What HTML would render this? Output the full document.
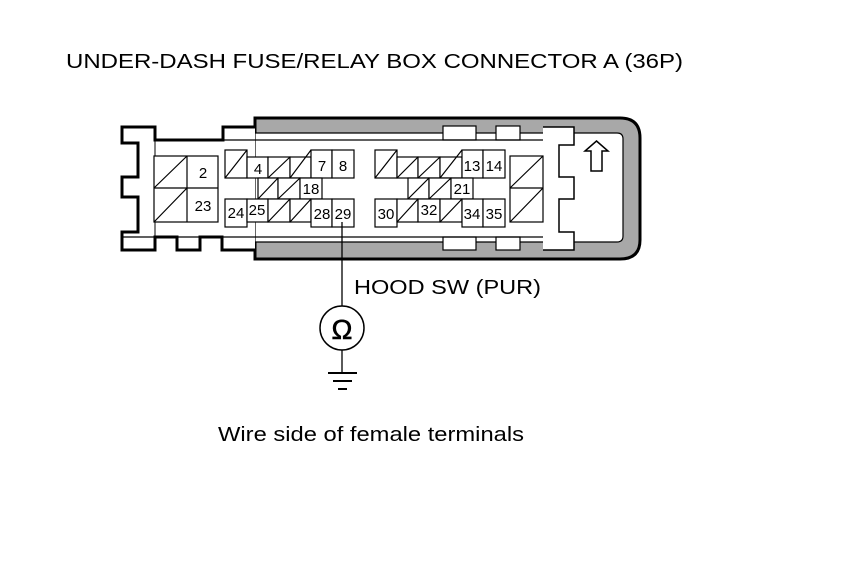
<!DOCTYPE html>
<html><head><meta charset="utf-8"><style>html,body{margin:0;padding:0;background:#fff}svg{display:block}</style></head>
<body>
<svg width="860" height="576" viewBox="0 0 860 576" xmlns="http://www.w3.org/2000/svg" font-family="Liberation Sans, sans-serif">
<rect width="860" height="576" fill="#fff"/>
<text x="66" y="68" font-size="20" textLength="617" lengthAdjust="spacingAndGlyphs">UNDER-DASH FUSE/RELAY BOX CONNECTOR A (36P)</text>
<path d="M255,118 H620 Q640,118 640,138 V240 Q640,259 620,259 H255 Z" fill="#a8a8a8" stroke="#000" stroke-width="3"/>
<path d="M255,133 H617 Q623,133 623,139 V236 Q623,242 617,242 H255 Z" fill="#fff" stroke="#000" stroke-width="1.2"/>
<rect x="443" y="126" width="33" height="14" fill="#fff" stroke="#000" stroke-width="1.2"/>
<rect x="496" y="126" width="24" height="14" fill="#fff" stroke="#000" stroke-width="1.2"/>
<rect x="443" y="237" width="33" height="13" fill="#fff" stroke="#000" stroke-width="1.2"/>
<rect x="496" y="237" width="24" height="13" fill="#fff" stroke="#000" stroke-width="1.2"/>
<path d="M255,127 H223 V140 H155 V127 H122 V143 H138 V177 H122 V197 H138 V232 H122 V250 H155 V237 H177 V250 H200 V237 H222 V250 H255" fill="#fff" stroke="#000" stroke-width="3"/>
<line x1="155" y1="140" x2="155" y2="237" stroke="#000" stroke-width="1"/>
<line x1="155" y1="140" x2="543" y2="140" stroke="#000" stroke-width="1.2"/>
<line x1="122" y1="237" x2="543" y2="237" stroke="#000" stroke-width="1.2"/>
<path d="M543,127 H574 V145 H559 V177 H574 V199 H559 V232 H574 V250 H543" fill="#fff" stroke="#000" stroke-width="1.5"/>
<rect x="543" y="141" width="15" height="95" fill="#fff"/>
<path d="M596.5,141 L608,151 H602 V171 H591 V151 H585 Z" fill="#fff" stroke="#000" stroke-width="1.5"/>
<g stroke="#000" stroke-width="1.2" fill="#fff">
<rect x="154" y="156" width="64" height="66"/>
<line x1="187" y1="156" x2="187" y2="222"/><line x1="154" y1="188" x2="218" y2="188"/>
<line x1="154" y1="188" x2="187" y2="156"/><line x1="154" y1="222" x2="187" y2="188"/>
<rect x="225" y="150" width="22" height="28"/><line x1="225" y1="178" x2="247" y2="150"/>
<rect x="247" y="157" width="21" height="21"/>
<rect x="268" y="157" width="22" height="21"/><line x1="268" y1="178" x2="290" y2="157"/>
<rect x="290" y="157" width="21" height="21"/><line x1="290" y1="178" x2="311" y2="150"/>
<rect x="311" y="150" width="21" height="28"/>
<rect x="332" y="150" width="22" height="28"/>
<rect x="258" y="178" width="20" height="21"/><line x1="258" y1="199" x2="278" y2="178"/>
<rect x="278" y="178" width="22" height="21"/><line x1="278" y1="199" x2="300" y2="178"/>
<rect x="300" y="178" width="22" height="21"/>
<rect x="225" y="199" width="22" height="28"/>
<rect x="247" y="199" width="21" height="23"/>
<rect x="268" y="199" width="22" height="23"/><line x1="268" y1="222" x2="290" y2="199"/>
<rect x="290" y="199" width="21" height="23"/><line x1="290" y1="222" x2="311" y2="199"/>
<rect x="311" y="199" width="21" height="28"/>
<rect x="332" y="199" width="22" height="28"/>
<rect x="375" y="150" width="22" height="28"/><line x1="375" y1="178" x2="397" y2="150"/>
<rect x="397" y="157" width="21" height="21"/><line x1="397" y1="178" x2="418" y2="157"/>
<rect x="418" y="157" width="22" height="21"/><line x1="418" y1="178" x2="440" y2="157"/>
<rect x="440" y="157" width="22" height="21"/><line x1="440" y1="178" x2="462" y2="150"/>
<rect x="462" y="150" width="21" height="28"/>
<rect x="483" y="150" width="22" height="28"/>
<rect x="408" y="178" width="21" height="21"/><line x1="408" y1="199" x2="429" y2="178"/>
<rect x="429" y="178" width="22" height="21"/><line x1="429" y1="199" x2="451" y2="178"/>
<rect x="451" y="178" width="22" height="21"/>
<rect x="375" y="199" width="22" height="28"/>
<rect x="397" y="199" width="21" height="23"/><line x1="397" y1="222" x2="418" y2="199"/>
<rect x="418" y="199" width="22" height="23"/>
<rect x="440" y="199" width="22" height="23"/><line x1="440" y1="222" x2="462" y2="199"/>
<rect x="462" y="199" width="21" height="28"/>
<rect x="483" y="199" width="22" height="28"/>
<rect x="510" y="156" width="33" height="66"/><line x1="510" y1="188" x2="543" y2="188"/>
<line x1="510" y1="188" x2="543" y2="156"/><line x1="510" y1="222" x2="543" y2="188"/>
</g>
<g font-size="15" text-anchor="middle">
<text x="203" y="178">2</text><text x="203" y="211">23</text>
<text x="258" y="174">4</text><text x="322" y="171">7</text><text x="343" y="171">8</text>
<text x="311" y="194">18</text>
<text x="236" y="218">24</text><text x="257" y="215">25</text><text x="322" y="219">28</text><text x="343" y="219">29</text>
<text x="472" y="171">13</text><text x="494" y="171">14</text>
<text x="462" y="194">21</text>
<text x="386" y="219">30</text><text x="429" y="215">32</text><text x="472" y="219">34</text><text x="494" y="219">35</text>
</g>
<line x1="342" y1="222" x2="342" y2="306" stroke="#000" stroke-width="1.3"/>
<circle cx="342" cy="328" r="22" fill="#fff" stroke="#000" stroke-width="1.5"/>
<text x="342" y="339" font-size="28" text-anchor="middle" stroke="#000" stroke-width="0.6">Ω</text>
<line x1="342" y1="350" x2="342" y2="373" stroke="#000" stroke-width="1.3"/>
<line x1="328" y1="373" x2="357" y2="373" stroke="#000" stroke-width="2"/>
<line x1="333" y1="381" x2="352" y2="381" stroke="#000" stroke-width="2"/>
<line x1="338" y1="389" x2="347" y2="389" stroke="#000" stroke-width="2"/>
<text x="354" y="294" font-size="20" textLength="187" lengthAdjust="spacingAndGlyphs">HOOD SW (PUR)</text>
<text x="218" y="441" font-size="20" textLength="306" lengthAdjust="spacingAndGlyphs">Wire side of female terminals</text>
</svg>
</body></html>
